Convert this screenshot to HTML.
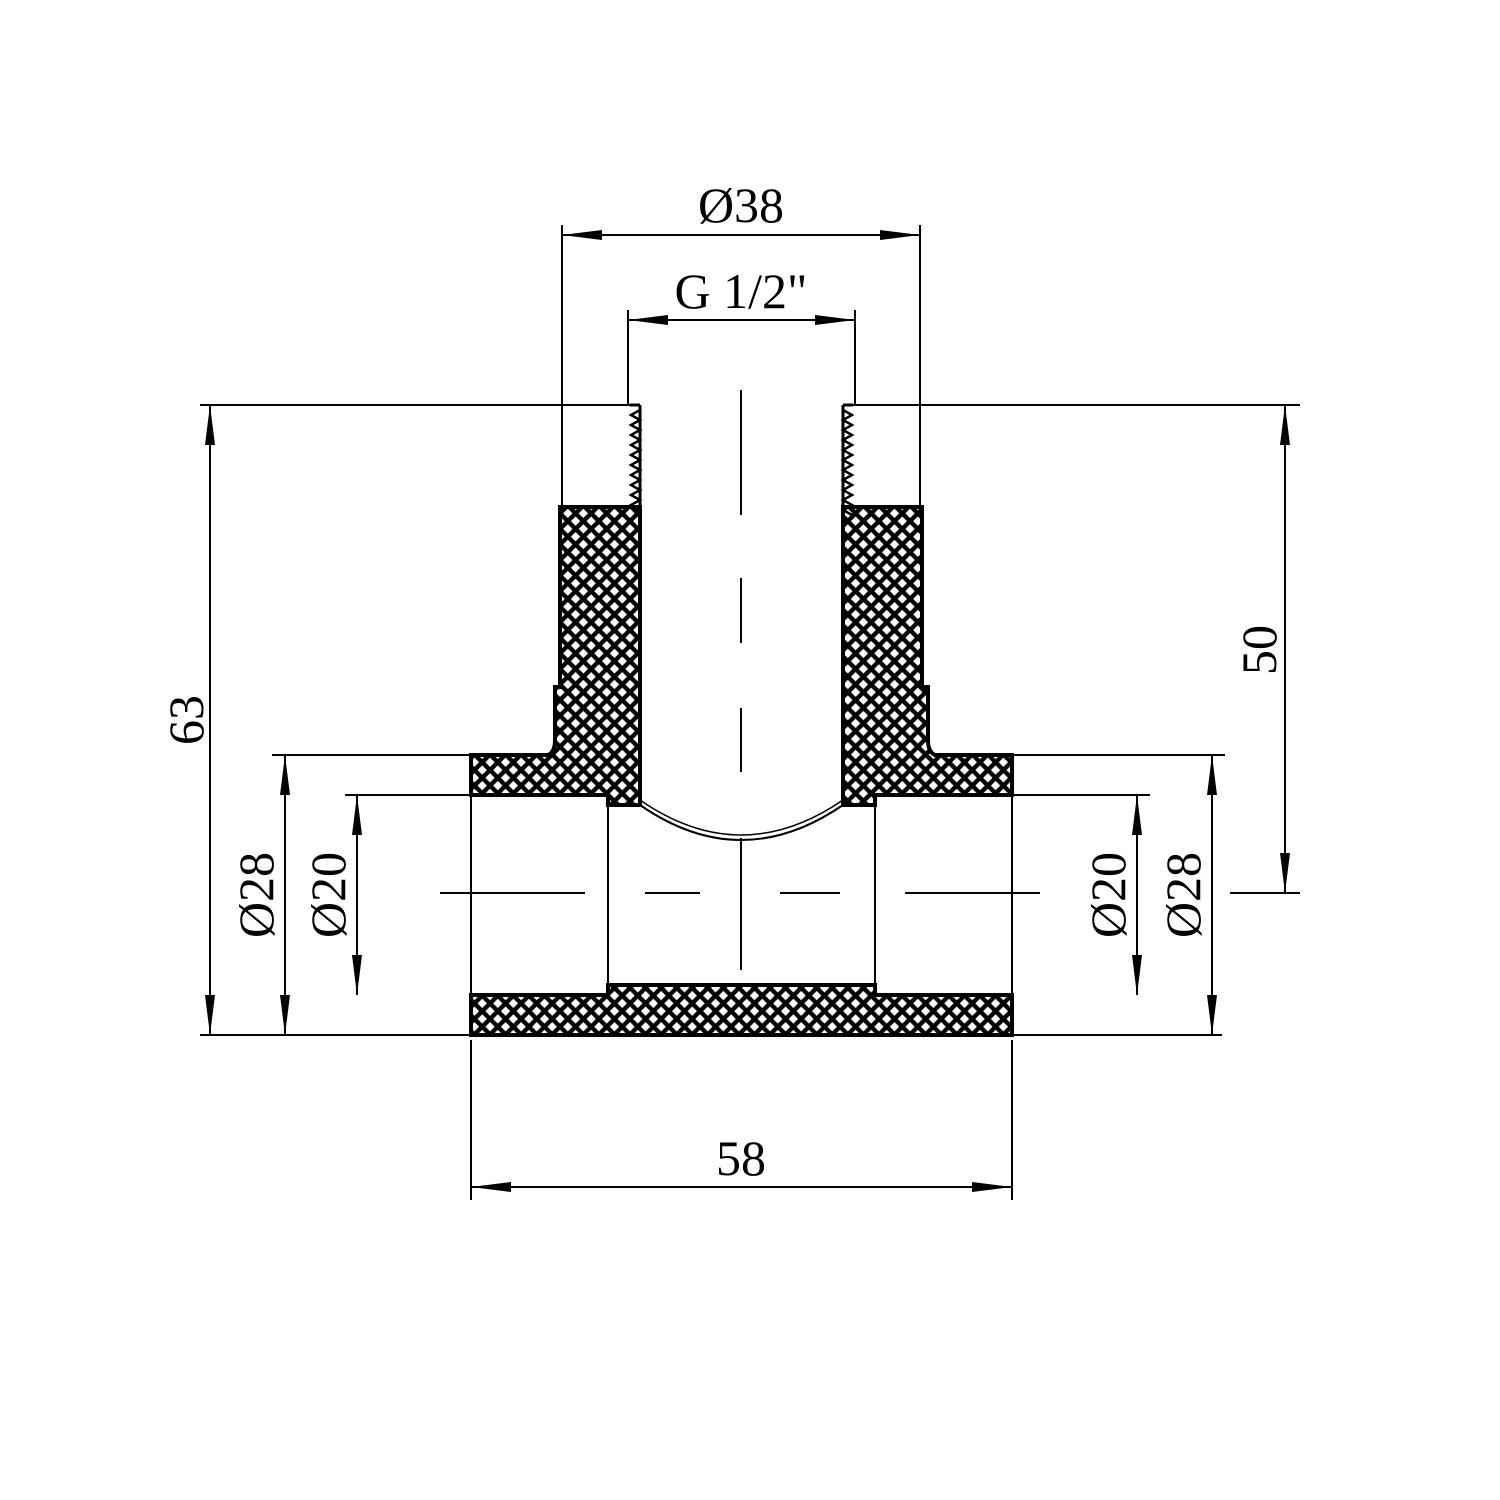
<!DOCTYPE html>
<html><head><style>body{margin:0;background:#fff}svg{display:block}</style></head><body>
<svg width="1500" height="1500" viewBox="0 0 1500 1500" xmlns="http://www.w3.org/2000/svg">
<defs>
<pattern id="h" width="11" height="11" patternUnits="userSpaceOnUse" patternTransform="rotate(45)">
<rect width="11" height="11" fill="#000"/><rect x="2.2" y="2.2" width="6.6" height="6.6" fill="#fff"/>
</pattern>
<marker id="a" viewBox="0 0 40 10" refX="40" refY="5" markerWidth="40" markerHeight="10" markerUnits="userSpaceOnUse" orient="auto-start-reverse"><path d="M0,0L40,5L0,10Z" fill="#000"/></marker>
</defs>
<g fill="url(#h)" stroke="#000" stroke-width="4">
<path d="M560,507H640V805H608V795H471V755H548Q555,752 555,740V687H560Z"/>
<path d="M843,507H922V687H928V740Q928,752 935,755H1012V795H875V805H843Z"/>
<path d="M471,995H608V985H875V995H1012V1035H471Z"/>
</g>
<g fill="none" stroke="#000" stroke-width="2">
<path d="M608,805V985M875,805V985M471,795V995M1012,795V995"/>
<path d="M640,805Q741,875 843,805" />
<path d="M640,800Q741,870 843,800" stroke-width="1.5"/>
<path d="M640,405V507M843,405V507" stroke-width="3"/>
<path d="M630,405l10,0M843,405l10,0" stroke-width="3"/>
<path d="M640,410l-9,5l9,5l-9,5l9,5l-9,5l9,5l-9,5l9,5l-9,5l9,5l-9,5l9,5l-9,5l9,5l-9,5l9,5l-9,5l9,5l-9,5l9,5" stroke-width="2.5"/>
<path d="M843,410l9,5l-9,5l9,5l-9,5l9,5l-9,5l9,5l-9,5l9,5l-9,5l9,5l-9,5l9,5l-9,5l9,5l-9,5l9,5l-9,5l9,5l-9,5l9,5" stroke-width="2.5"/>
<path d="M741,390V515M741,578V643M741,708V772M741,838V970"/>
<path d="M440,893H585M645,893H700M780,893H840M905,893H1040"/>
<!-- extension lines -->
<path d="M562,225V505M920,225V505M628,310V405M855,310V405"/>
<path d="M200,405H640M843,405H1300M1230,893H1300M200,1035H471M272,755H471M345,795H471M1012,755H1225M1012,795H1150M1012,1035H1222M471,1040V1200M1012,1040V1200"/>
</g>
<g stroke="#000" stroke-width="2" marker-start="url(#a)" marker-end="url(#a)">
<line x1="562" y1="235" x2="920" y2="235"/>
<line x1="628" y1="320" x2="855" y2="320"/>
<line x1="210" y1="405" x2="210" y2="1035"/>
<line x1="1285" y1="405" x2="1285" y2="893"/>
<line x1="285" y1="755" x2="285" y2="1035"/>
<line x1="357" y1="795" x2="357" y2="995"/>
<line x1="1137" y1="795" x2="1137" y2="995"/>
<line x1="1212" y1="755" x2="1212" y2="1035"/>
<line x1="471" y1="1187" x2="1012" y2="1187"/>
</g>
<g font-family="Liberation Serif, serif" font-size="50" text-anchor="middle">
<text x="741" y="222">Ø38</text>
<text x="741" y="308">G 1/2"</text>
<text x="741" y="1175">58</text>
<text transform="translate(203,720) rotate(-90)">63</text>
<text transform="translate(1276,650) rotate(-90)">50</text>
<text transform="translate(273,895) rotate(-90)">Ø28</text>
<text transform="translate(345,895) rotate(-90)">Ø20</text>
<text transform="translate(1125,895) rotate(-90)">Ø20</text>
<text transform="translate(1200,895) rotate(-90)">Ø28</text>
</g>
</svg>
</body></html>
